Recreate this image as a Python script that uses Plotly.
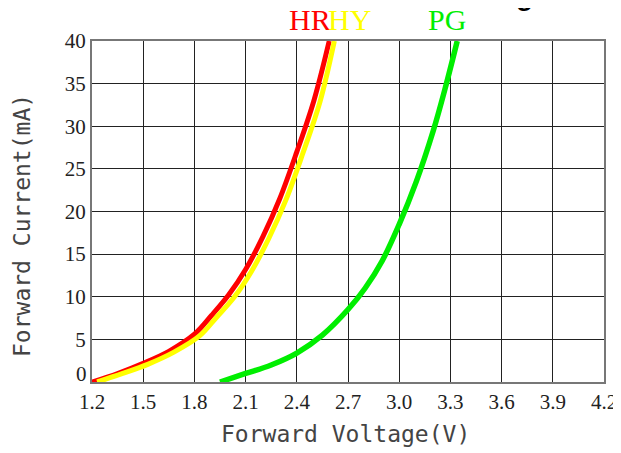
import plotly.graph_objects as go

# Forward voltage (V) / forward current (mA)
hr_v = [1.20, 1.35, 1.50, 1.65, 1.80, 1.90, 2.00, 2.10, 2.20, 2.30, 2.40, 2.50, 2.59]
hr_i = [0.0, 1.0, 2.2, 3.6, 5.6, 7.8, 10.2, 13.2, 17.0, 21.5, 27.0, 33.0, 40.0]

hy_v = [1.23, 1.38, 1.53, 1.68, 1.83, 1.93, 2.035, 2.135, 2.235, 2.335, 2.435, 2.535, 2.62]
hy_i = [0.0, 1.0, 2.1, 3.5, 5.4, 7.6, 10.0, 13.0, 16.8, 21.3, 26.8, 32.8, 40.0]

pg_v = [1.95, 2.10, 2.25, 2.40, 2.55, 2.70, 2.80, 2.90, 3.00, 3.10, 3.20, 3.27, 3.34]
pg_i = [0.0, 1.0, 2.0, 3.4, 5.5, 8.5, 11.0, 14.2, 18.5, 23.5, 29.5, 34.5, 40.0]

x_ticks = [1.2, 1.5, 1.8, 2.1, 2.4, 2.7, 3.0, 3.3, 3.6, 3.9, 4.2]
x_tick_labels = ["1.2", "1.5", "1.8", "2.1", "2.4", "2.7", "3.0", "3.3", "3.6", "3.9", "4.2"]
y_ticks = [0, 5, 10, 15, 20, 25, 30, 35, 40]

series_labels = ["HR", "HY", "PG"]
series_colors = ["#ff0000", "#ffff00", "#00ee00"]
label_x = [2.48, 2.71, 3.28]

x_title = "Forward Voltage(V)"
y_title = "Forward Current(mA)"

fig = go.Figure()
fig.add_trace(go.Scatter(x=hr_v, y=hr_i, mode="lines", line=dict(color=series_colors[0], width=5, shape="spline"), name="HR"))
fig.add_trace(go.Scatter(x=hy_v, y=hy_i, mode="lines", line=dict(color=series_colors[1], width=5, shape="spline"), name="HY"))
fig.add_trace(go.Scatter(x=pg_v, y=pg_i, mode="lines", line=dict(color=series_colors[2], width=5.5, shape="spline"), name="PG"))

for lab, col, lx in zip(series_labels, series_colors, label_x):
    fig.add_annotation(x=lx, y=1.064, xref="x", yref="paper", text=lab, showarrow=False,
                       font=dict(family="Liberation Serif", size=30, color=col),
                       xanchor="center", yanchor="middle")

# cropped fragment of a title above the page
fig.add_annotation(x=0.844, y=1.082, xref="paper", yref="paper", text="<b>g</b>", showarrow=False,
                   font=dict(family="Liberation Sans", size=28, color="#000000"),
                   xanchor="center", yanchor="bottom")

# "0" label sits slightly above its gridline in the reference
fig.add_annotation(x=0, y=y_ticks[0], xref="paper", yref="y", text=str(y_ticks[0]), showarrow=False,
                   font=dict(family="Liberation Serif", size=21, color="#222222"),
                   xanchor="right", yanchor="middle", xshift=-3, yshift=8)

# axis titles
fig.add_annotation(x=0.495, y=-0.152, xref="paper", yref="paper", text=x_title, showarrow=False,
                   font=dict(family="DejaVu Sans Mono", size=23, color="#444444"),
                   xanchor="center", yanchor="middle")
fig.add_annotation(x=-0.137, y=0.46, xref="paper", yref="paper", text=y_title, showarrow=False,
                   textangle=-90,
                   font=dict(family="DejaVu Sans Mono", size=23, color="#444444"),
                   xanchor="center", yanchor="middle")

fig.update_xaxes(range=[1.2, 4.2], tickvals=x_ticks, ticktext=x_tick_labels,
                 showgrid=True, gridcolor="#222222", gridwidth=1.2,
                 showline=True, linecolor="#777777", linewidth=2, mirror=True,
                 ticks="", zeroline=False, automargin=False,
                 tickfont=dict(family="Liberation Serif", size=21, color="#222222"))
fig.update_yaxes(range=[0, 40], tickvals=y_ticks[1:],
                 showgrid=True, gridcolor="#222222", gridwidth=1.2,
                 showline=True, linecolor="#777777", linewidth=2, mirror=True,
                 ticks="", zeroline=False, automargin=False,
                 tickfont=dict(family="Liberation Serif", size=21, color="#222222"))

# the page body adds an 8px margin, so the figure is 8px smaller than the window
fig.update_layout(width=613, height=445, margin=dict(l=84, r=17, t=33, b=71),
                  plot_bgcolor="white", paper_bgcolor="white", showlegend=False)

fig.write_html("out.html")
